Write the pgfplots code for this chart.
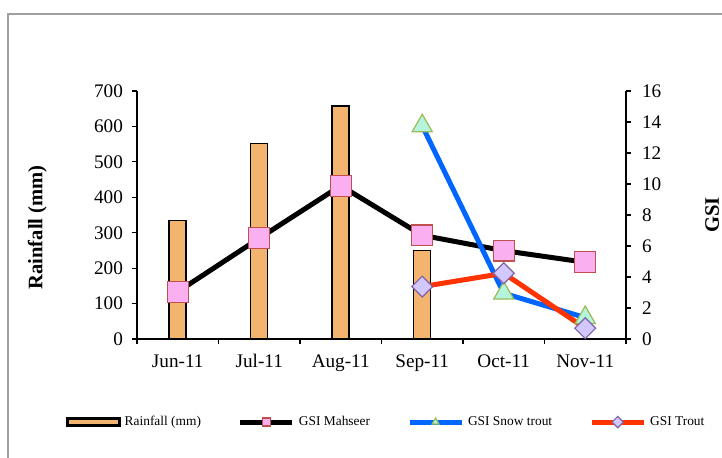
\documentclass[border=0pt]{standalone}
\usepackage{fontspec}
\setmainfont{Liberation Serif}
\usepackage{pgfplots}
\pgfplotsset{compat=1.18}
\definecolor{barfill}{RGB}{242,180,110}
\definecolor{pinkfill}{RGB}{250,176,240}
\definecolor{pinkedge}{RGB}{192,80,77}
\definecolor{snowblue}{RGB}{0,102,255}
\definecolor{mintfill}{RGB}{180,245,220}
\definecolor{olivegreen}{RGB}{155,187,89}
\definecolor{troutred}{RGB}{255,51,0}
\definecolor{lavfill}{RGB}{210,200,255}
\definecolor{purpedge}{RGB}{128,100,162}
\definecolor{framegray}{RGB}{160,160,160}
\begin{document}
\begin{tikzpicture}
\useasboundingbox (-68.5pt,-59pt) rectangle (292.5pt,169.5pt);
\clip (-68.5pt,-59pt) rectangle (292.5pt,169.5pt);
\draw[framegray, line width=1pt] (-64.5pt,-80pt) -- (-64.5pt,162.5pt) -- (300pt,162.5pt);
\pgfplotsset{common/.style={
  scale only axis, width=244.5pt, height=124pt,
  at={(0pt,0pt)}, anchor=south west,
  xmin=-0.5, xmax=5.5,
  axis line style={black, line width=0.75pt},
  tick style={black, line width=0.6pt},
  tick align=outside,
  major tick length=2.5pt, minor tick length=2.5pt,
  /pgf/number format/assume math mode=true,
  tick label style={font=\fontsize{9.6}{11}\selectfont},
  clip=false,
}}
\begin{axis}[common,
  ymin=0, ymax=700, ytick={0,100,...,700},
  axis x line*=bottom, axis y line*=left,
  xtick={0,...,5},
  xticklabels={Jun-11,Jul-11,Aug-11,Sep-11,Oct-11,Nov-11},
  minor xtick={-0.5,0.5,...,5.5},
  major x tick style={draw=none},
  xticklabel style={yshift=-1pt, text height=7pt, text depth=2pt},
  yticklabel style={xshift=-1pt},
  ylabel={Rainfall (mm)},
  ylabel style={font=\fontsize{10.3}{12}\selectfont\bfseries, at={(axis description cs:-0.204,0.45)}, anchor=center},
]
\addplot[ybar, bar width=8.5pt, fill=barfill, draw=black, line width=0.75pt] coordinates {(0,334) (1,552) (2,657) (3,250) (4,0) (5,0)};
\end{axis}
\begin{axis}[common,
  ymin=0, ymax=16, ytick={0,2,...,16},
  axis y line*=right, axis x line=none,
  yticklabel style={xshift=2pt},
  ylabel={GSI},
  ylabel style={font=\fontsize{10.3}{12}\selectfont\bfseries, at={(axis description cs:1.176,0.5)}, anchor=center},
  legend image code/.code={\draw[mark repeat=2,mark phase=2,#1,mark size=2pt] plot coordinates {(0pt,0pt) (13pt,0pt) (26pt,0pt)};},
  legend style={at={(axis description cs:0.512,-0.335)}, anchor=center, draw=none, fill=none,
    legend columns=4, font=\fontsize{6.7}{8}\selectfont,
    /tikz/every even column/.append style={column sep=16.5pt}},
]
\addlegendimage{legend image code/.code={\draw[fill=barfill, draw=black, line width=1.2pt] (0pt,-1.75pt) rectangle (26pt,1.75pt);}}
\addlegendentry{Rainfall (mm)}
\addplot[black, line width=2.5pt, mark=square*, mark size=5.2pt, mark options={fill=pinkfill, draw=pinkedge, line width=0.6pt}] coordinates {(0,3.05) (1,6.5) (2,9.89) (3,6.69) (4,5.7) (5,4.95)};
\addlegendentry{GSI Mahseer}
\addplot[snowblue, line width=2.5pt, mark=triangle*, mark size=5.8pt, mark options={fill=mintfill, draw=olivegreen, line width=0.6pt}] coordinates {(3,13.75) (4,2.95) (5,1.38)};
\addlegendentry{GSI Snow trout}
\addplot[troutred, line width=2.5pt, mark=square*, mark size=3.7pt, mark options={fill=lavfill, draw=purpedge, line width=0.6pt, rotate=45}] coordinates {(3,3.38) (4,4.24) (5,0.7)};
\addlegendentry{GSI Trout}
\end{axis}
\end{tikzpicture}
\end{document}
